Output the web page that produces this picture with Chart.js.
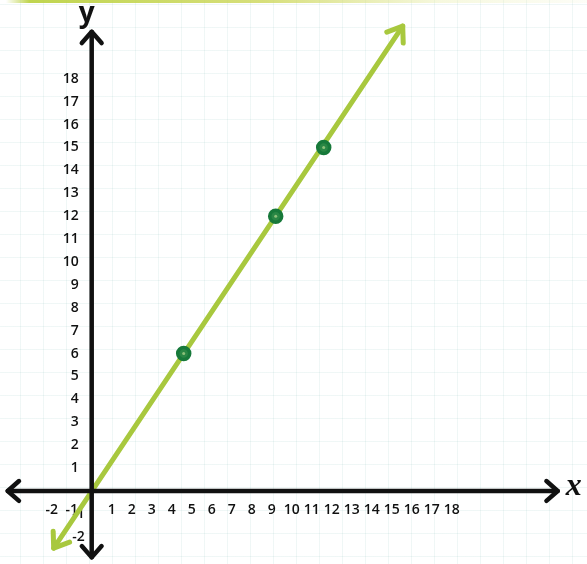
<!DOCTYPE html>
<html>
<head>
<meta charset="utf-8">
<script src="https://cdn.jsdelivr.net/npm/chart.js@4.4.1/dist/chart.umd.min.js"></script>
<style>
  html, body { margin: 0; padding: 0; background: #fff; }
  #wrap {
    position: relative; width: 587px; height: 564px; background-color: #fff;
    background-image:
      linear-gradient(to right, rgba(160, 205, 200, 0.16) 1px, transparent 1px),
      linear-gradient(to bottom, rgba(160, 205, 200, 0.16) 1px, transparent 1px);
    background-size: 23px 23px;
    background-position: 20px 4px;
  }
  #band {
    position: absolute; left: 0; top: 0; width: 587px; height: 3px;
    background: linear-gradient(to right, rgba(200, 215, 90, 0) 1%, rgba(185, 208, 60, 0.9) 5%,
      rgba(205, 215, 90, 0.8) 45%, rgba(230, 235, 160, 0.35) 75%, rgba(240, 240, 200, 0.15) 100%);
  }
  canvas { position: absolute; left: 0; top: 0; }
</style>
</head>
<body>
<div id="wrap"><div id="band"></div><canvas id="c" width="587" height="564"></canvas></div>
<script>
// Plotted points
const xValues = [4.6, 9.2, 11.6];
const yValues = [6, 12, 15];

// Ends of the straight line through the points (arrow tips)
const lineX = [-1.9, 15.55];
const lineY = [-2.5, 20.3];

// Tick labels on each axis
const xTicks = [-2, -1, 1, 2, 3, 4, 5, 6, 7, 8, 9, 10, 11, 12, 13, 14, 15, 16, 17, 18];
const yTicks = [-2, -1, 1, 2, 3, 4, 5, 6, 7, 8, 9, 10, 11, 12, 13, 14, 15, 16, 17, 18];

// Visible window and axis arrow extents
const xRange = [-4.585, 24.765];
const yRange = [-3.19, 21.44];
const xAxisEnds = [-4.2, 23.3];
const yAxisEnds = [-2.9, 20.05];

const LINE_GREEN = '#a8c83e';
const DOT_GREEN = '#17793a';
const TICK_FONT = '600 14px "Open Sans"';

function arrowHead(ctx, tx, ty, angle, len, spread) {
  ctx.beginPath();
  ctx.moveTo(tx - len * Math.cos(angle - spread), ty - len * Math.sin(angle - spread));
  ctx.lineTo(tx, ty);
  ctx.lineTo(tx - len * Math.cos(angle + spread), ty - len * Math.sin(angle + spread));
  ctx.stroke();
}

// Axes crossing at the origin: arrows, tick labels, axis letters,
// plus the arrowheads at both ends of the data line
const axesPlugin = {
  id: 'axesArrows',
  beforeDatasetsDraw(chart) {
    const { ctx, scales: { x, y } } = chart;
    const ox = x.getPixelForValue(0), oy = y.getPixelForValue(0);
    ctx.save();
    ctx.fillStyle = '#111';
    ctx.font = TICK_FONT;
    ctx.textBaseline = 'middle';
    ctx.textAlign = 'center';
    xTicks.forEach(v => ctx.fillText(String(v), x.getPixelForValue(v), oy + 19));
    ctx.textAlign = 'right';
    yTicks.forEach(v => ctx.fillText(String(v), ox - (v < 0 ? 7 : 13), y.getPixelForValue(v)));

    const meta = chart.getDatasetMeta(0);
    const a = meta.data[0], b = meta.data[meta.data.length - 1];
    const ang = Math.atan2(b.y - a.y, b.x - a.x);
    ctx.strokeStyle = LINE_GREEN;
    ctx.lineWidth = 5;
    ctx.lineCap = 'round';
    ctx.lineJoin = 'round';
    arrowHead(ctx, b.x, b.y, ang, 17, 0.62);
    arrowHead(ctx, a.x, a.y, ang + Math.PI, 17, 0.62);
    ctx.restore();
  },
  afterDatasetsDraw(chart) {
    const { ctx, scales: { x, y } } = chart;
    const ox = x.getPixelForValue(0), oy = y.getPixelForValue(0);
    const x0 = x.getPixelForValue(xAxisEnds[0]), x1 = x.getPixelForValue(xAxisEnds[1]);
    const y0 = y.getPixelForValue(yAxisEnds[0]), y1 = y.getPixelForValue(yAxisEnds[1]);
    ctx.save();
    ctx.strokeStyle = '#111';
    ctx.lineWidth = 4.5;
    ctx.lineCap = 'round';
    ctx.lineJoin = 'round';
    ctx.beginPath();
    ctx.moveTo(x0, oy); ctx.lineTo(x1, oy);
    ctx.moveTo(ox, y0); ctx.lineTo(ox, y1);
    ctx.stroke();
    arrowHead(ctx, x1, oy, 0, 15, 0.72);
    arrowHead(ctx, x0, oy, Math.PI, 15, 0.72);
    arrowHead(ctx, ox, y1, -Math.PI / 2, 15, 0.72);
    arrowHead(ctx, ox, y0, Math.PI / 2, 15, 0.72);

    ctx.fillStyle = '#111';
    ctx.textAlign = 'center';
    ctx.textBaseline = 'alphabetic';
    ctx.font = 'italic bold 32px "Liberation Serif"';
    ctx.fillText('x', x1 + 16, oy + 4);
    ctx.font = 'bold 28px "Open Sans"';
    ctx.fillText('y', ox - 5, y1 - 10);
    ctx.restore();
  }
};

new Chart(document.getElementById('c'), {
  type: 'scatter',
  data: {
    datasets: [
      {
        type: 'line',
        data: lineX.map((v, i) => ({ x: v, y: lineY[i] })),
        borderColor: LINE_GREEN,
        borderWidth: 5,
        pointRadius: 0,
        borderCapStyle: 'round',
        order: 3
      },
      {
        data: xValues.map((v, i) => ({ x: v, y: yValues[i] })),
        pointRadius: 6,
        pointBackgroundColor: '#2a8745',
        pointBorderColor: DOT_GREEN,
        pointBorderWidth: 3.5,
        order: 2
      },
      {
        data: xValues.map((v, i) => ({ x: v, y: yValues[i] })),
        pointRadius: 1.5,
        pointBackgroundColor: '#8cc07a',
        pointBorderWidth: 0,
        order: 1
      }
    ]
  },
  options: {
    responsive: false,
    animation: false,
    layout: { padding: 0, autoPadding: false },
    plugins: { legend: { display: false }, tooltip: { enabled: false } },
    scales: {
      x: { type: 'linear', min: xRange[0], max: xRange[1], display: false },
      y: { type: 'linear', min: yRange[0], max: yRange[1], display: false }
    }
  },
  plugins: [axesPlugin]
});
</script>
</body>
</html>
